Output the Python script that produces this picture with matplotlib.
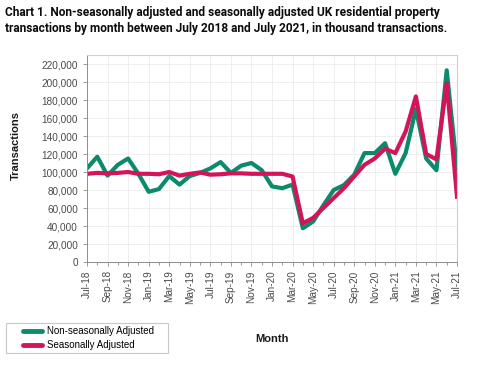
import matplotlib.pyplot as plt
import numpy as np
import pandas as pd
from matplotlib.patches import Rectangle
from matplotlib.ticker import FuncFormatter, MultipleLocator

# monthly values, Jul-2018 .. Jul-2021, transactions
months = pd.date_range("2018-07-01", "2021-07-01", freq="MS")
non_seasonal = [
    104000, 117000, 96000, 108000, 115000, 98000, 78000, 81000, 95500, 86000, 95500, 99000,
    104000, 111000, 99000, 107000, 110000, 102000, 84000, 82000, 86000, 37500, 45000, 63000,
    80000, 85500, 97000, 121000, 121000, 132000, 98000, 121000, 170000, 115000, 102000, 213000,
    103000,
]
seasonal = [
    98000, 99000, 98500, 99000, 100000, 98000, 98000, 97500, 100000, 96000, 98000, 99500,
    97000, 97500, 98500, 98500, 98000, 98000, 98000, 98000, 95000, 43000, 49000, 60000,
    71000, 82000, 95000, 108000, 115000, 126000, 121000, 145000, 184000, 120000, 114000, 198500,
    72500,
]
series_names = ["Non-seasonally Adjusted", "Seasonally Adjusted"]
series_colors = ["#0b8a6c", "#d4145a"]

W, H = 480, 371
fig = plt.figure(figsize=(W / 100, H / 100), dpi=100)
plt.rcParams["font.family"] = ["Liberation Sans", "DejaVu Sans"]

fig.text(5 / W, 1 - 6 / H,
         "Chart 1. Non-seasonally adjusted and seasonally adjusted UK residential property\n"
         "transactions by month between July 2018 and July 2021, in thousand transactions.",
         fontsize=8.6, fontweight="bold", family="Roboto", color="#0b0c0c",
         va="top", ha="left", linespacing=1.3)

ax = fig.add_axes([87 / W, 1 - 262 / H, 370 / W, 207 / H])
x = np.arange(len(months))
ax.plot(x, non_seasonal, color=series_colors[0], lw=3.0, label=series_names[0])
ax.plot(x, seasonal, color=series_colors[1], lw=3.0, label=series_names[1])

ax.set_xlim(0, len(months) - 1)
ax.set_ylim(0, 230000)
ax.set_yticks(np.arange(0, 220001, 20000))
ax.yaxis.set_major_formatter(FuncFormatter(lambda v, p: f"{int(v):,}"))
ax.set_xticks(x[::2])
ax.set_xticklabels([m.strftime("%b-%y") for m in months[::2]], rotation=90)
ax.xaxis.set_minor_locator(MultipleLocator(1))

ax.grid(True, which="major", color="#ececec", lw=0.6)
ax.set_axisbelow(True)
for side in ["top", "right"]:
    ax.spines[side].set_color("#d0d0d0")
for side in ["left", "bottom"]:
    ax.spines[side].set_color("#8c8c8c")
    ax.spines[side].set_linewidth(0.7)
ax.tick_params(axis="both", which="major", labelsize=7.2, colors="#8c8c8c",
               labelcolor="#4a4a4a", length=3, width=0.6)
ax.tick_params(axis="x", which="minor", colors="#8c8c8c", length=2, width=0.6)
ax.tick_params(axis="x", which="major", pad=3)

ax.set_ylabel("Transactions", fontsize=8, fontweight="bold", color="#1a1a1a")
ax.yaxis.set_label_coords(-0.18, 0.565)
ax.set_xlabel("Month", fontsize=8, fontweight="bold", color="#1a1a1a")
ax.xaxis.set_label_coords(0.5, -0.35)

# legend box drawn as a plain frame, entries placed inside
fig.patches.append(Rectangle((6 / W, 1 - 353 / H), 162 / W, 30 / H,
                             transform=fig.transFigure, facecolor="white",
                             edgecolor="#c8c8c8", lw=0.8))
leg = fig.legend(loc="center left", bbox_to_anchor=(18 / W, 1 - 338 / H), fontsize=7,
                 frameon=False, handlelength=2.0, handletextpad=0.45,
                 borderpad=0.0, labelspacing=0.4)
for line in leg.get_lines():
    line.set_linewidth(3.5)
    line.set_solid_capstyle("round")

fig.savefig("out.png", dpi=100)
